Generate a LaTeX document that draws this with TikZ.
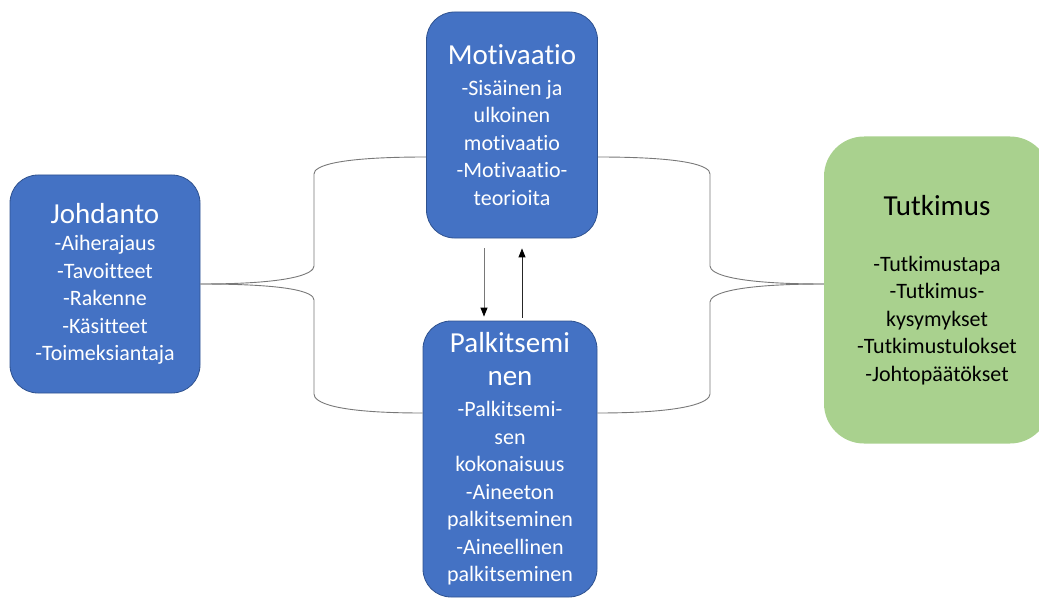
\documentclass[tikz,border=0pt]{standalone}
\usepackage{fontspec}
\setmainfont{Carlito}[Ligatures={CommonOff,ContextualOff}]
\usetikzlibrary{arrows.meta, calc}
\definecolor{boxblue}{RGB}{68, 114, 196}
\definecolor{boxblueline}{RGB}{47, 82, 143}
\definecolor{boxgreen}{RGB}{169, 209, 142}
\definecolor{linegray}{RGB}{120, 120, 120}
\newcommand{\bodyfont}{\fontsize{22}{27.5}\selectfont}
\newcommand{\titlefont}{\fontsize{29}{33}\selectfont}

\begin{document}
\begin{tikzpicture}[x=1pt, y=-1pt,
  bluebox/.style={draw=boxblueline, line width=0.8pt, fill=boxblue, rounded corners=28pt,
    text=white, align=center, font=\bodyfont, inner sep=0pt},
  greenbox/.style={fill=boxgreen, rounded corners=40pt,
    text=black, align=center, font=\bodyfont, inner sep=0pt},
  conn/.style={draw=linegray, line width=0.9pt},
  arr/.style={-{Triangle[length=9pt, width=7pt, color=black]}, line width=0.9pt}]

\clip (0,0) rectangle (1039,599);

% Laatikot
\node[bluebox, minimum width=190pt, minimum height=218pt] (joh) at (105,284) {
  {\titlefont Johdanto}\\
  -Aiherajaus\\-Tavoitteet\\-Rakenne\\-Käsitteet\\-Toimeksiantaja};
\node[bluebox, minimum width=171pt, minimum height=226pt] (mot) at (512,125) {
  {\titlefont Motivaatio}\\[3pt]
  -Sisäinen ja\\ulkoinen\\motivaatio\\-Motivaatio-\\teorioita};
\node[bluebox, minimum width=174pt, minimum height=276pt] (pal) at (510,459) {
  {\titlefont Palkitsemi}\\[5pt]{\titlefont nen}\\[4pt]
  -Palkitsemi-\\sen\\kokonaisuus\\-Aineeton\\palkitseminen\\-Aineellinen\\palkitseminen};
\node[greenbox, minimum width=226pt, minimum height=307pt] (tut) at (937,290) {
  {\titlefont Tutkimus}\\[28pt]
  -Tutkimustapa\\-Tutkimus-\\kysymykset\\-Tutkimustulokset\\-Johtopäätökset};

% Vasen haarukka
\draw[conn] (joh.east) .. controls +(90,0) and +(0,8) .. (314,266) -- (314,174)
  .. controls +(0,-8) and +(-90,0) .. ($(mot.west)+(0,32)$);
\draw[conn] (joh.east) .. controls +(90,0) and +(0,-8) .. (314,300) -- (314,394)
  .. controls +(0,8) and +(-90,0) .. ($(pal.west)+(0,-46)$);

% Oikea haarukka
\draw[conn] ($(mot.east)+(0,32)$) .. controls +(90,0) and +(0,-8) .. (710,174) -- (710,266)
  .. controls +(0,8) and +(-90,0) .. ($(tut.west)+(0,-6)$);
\draw[conn] ($(pal.east)+(0,-46)$) .. controls +(90,0) and +(0,8) .. (710,394) -- (710,302)
  .. controls +(0,-8) and +(-90,0) .. ($(tut.west)+(0,-6)$);

% Nuolet
\draw[arr, linegray] ($(mot.south)+(-28,10)$) -- ($(pal.north)+(-26,-4)$);
\draw[arr, black!85] ($(pal.north)+(12,-3)$) -- ($(mot.south)+(10,10)$);

\end{tikzpicture}
\end{document}
